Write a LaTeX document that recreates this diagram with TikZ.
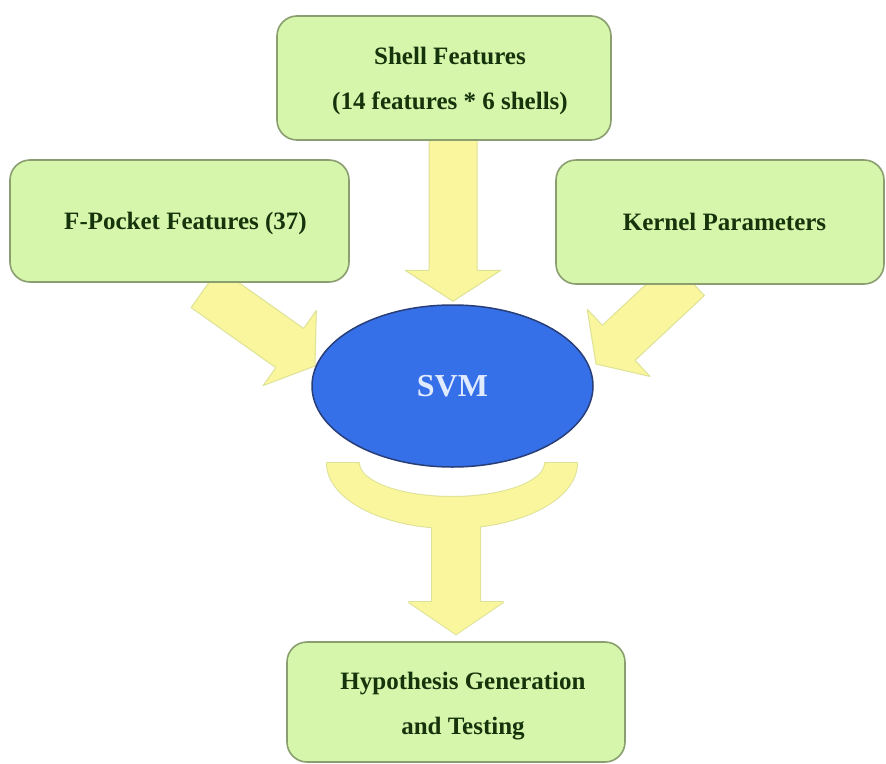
\documentclass[tikz,border=0pt]{standalone}
\usepackage{fontspec}
\setmainfont{Liberation Serif}
\usetikzlibrary{calc,shapes.geometric,backgrounds}
\definecolor{boxfill}{RGB}{214,246,172}
\definecolor{boxline}{RGB}{138,158,112}
\definecolor{boxtext}{RGB}{22,52,12}
\definecolor{arrfill}{RGB}{250,246,158}
\definecolor{arrline}{RGB}{222,226,150}
\definecolor{svmfill}{RGB}{54,112,232}
\definecolor{svmline}{RGB}{40,62,120}
\definecolor{svmtext}{RGB}{225,235,255}
% #1 style, #2 tail, #3 tip, #4 half shaft, #5 half head, #6 head length
\newcommand\fatarrow[6]{%
  \coordinate (#2-hb) at ($(#3)!#6!(#2)$);
  \path[#1] ($(#2)!#4!90:(#3)$) -- ($(#2-hb)!#4!90:(#3)$) -- ($(#2-hb)!#5!90:(#3)$)
    -- (#3) -- ($(#2-hb)!#5!-90:(#3)$) -- ($(#2-hb)!#4!-90:(#3)$) -- ($(#2)!#4!-90:(#3)$) -- cycle;}
\tikzset{
  feat/.style={draw=boxline, line width=1.6pt, fill=boxfill, rounded corners=20pt,
    inner sep=0pt},
  feattext/.style={align=center, text=boxtext, inner sep=0pt,
    font=\fontsize{25}{45}\selectfont\bfseries},
  fatarr/.style={fill=arrfill, draw=arrline, line width=1pt, line join=round},
  outl/.style={draw=arrline, line width=2pt, line join=round},
  fillonly/.style={fill=arrfill},
}
\begin{document}
\begin{tikzpicture}[x=1pt,y=-1pt]
\useasboundingbox (0,0) rectangle (886,763);

\node[feat, minimum width=334pt, minimum height=124pt,
  label={[feattext, xshift=6pt, yshift=-3pt]center:{Shell Features\\(14 features * 6 shells)}}]
  (shell) at (444,78) {};
\node[feat, minimum width=339pt, minimum height=122pt,
  label={[feattext, xshift=6pt, yshift=-2pt]center:{F-Pocket Features (37)}}]
  (fpocket) at (179.5,221) {};
\node[feat, minimum width=328pt, minimum height=124pt,
  label={[feattext, xshift=4.5pt]center:{Kernel Parameters}}]
  (kernel) at (720,222) {};
\node[feat, minimum width=338pt, minimum height=120pt,
  label={[feattext, xshift=7pt, yshift=-4pt]center:{Hypothesis Generation\\and Testing}}]
  (hyp) at (456,702) {};
\node[ellipse, draw=svmline, line width=1.5pt, fill=svmfill,
  minimum width=281pt, minimum height=162pt, inner sep=0pt, text=svmtext,
  font=\fontsize{32}{38}\selectfont\bfseries] (svm) at (452.5,386) {SVM};

\begin{scope}[on background layer]
  \fill[white] (0,0) rectangle (886,763);
  % top arrow
  \coordinate (tt) at ($(shell.south)+(9,-6)$);
  \coordinate (th) at ($(svm.north)+(0.5,-3)$);
  \fatarrow{fatarr}{tt}{th}{24pt}{48pt}{31pt}
  % left arrow
  \coordinate (lt) at (205,288);
  \coordinate (lh) at (315,366);
  \fatarrow{fatarr}{lt}{lh}{24pt}{46pt}{31pt}
  % right arrow
  \coordinate (rt) at (688,278);
  \coordinate (rh) at (596,364);
  \fatarrow{fatarr}{rt}{rh}{24pt}{46pt}{31pt}
  % bottom: crescent + stem
  \coordinate (bt) at (456,505);
  \coordinate (bh) at ($(hyp.north)+(0,-7)$);
  \path[outl] (327,463) arc[start angle=180,end angle=0,x radius=125,y radius=65]
    -- (545,463) arc[start angle=0,end angle=180,x radius=93,y radius=34] -- cycle;
  \fatarrow{outl}{bt}{bh}{24pt}{47pt}{32pt}
  \path[fillonly] (327,463) arc[start angle=180,end angle=0,x radius=125,y radius=65]
    -- (545,463) arc[start angle=0,end angle=180,x radius=93,y radius=34] -- cycle;
  \fatarrow{fillonly}{bt}{bh}{24pt}{47pt}{32pt}
\end{scope}
\end{tikzpicture}
\end{document}
